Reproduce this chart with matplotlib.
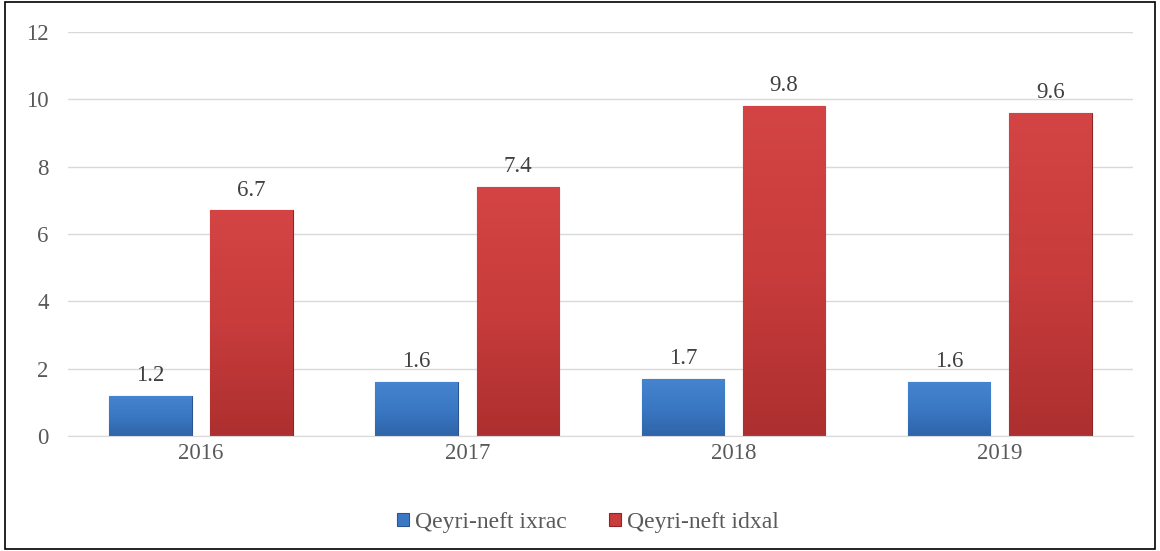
import numpy as np
import matplotlib.pyplot as plt
from matplotlib.patches import Rectangle
from matplotlib.colors import LinearSegmentedColormap

# --- data ---
years = ["2016", "2017", "2018", "2019"]
ixrac = [1.2, 1.6, 1.7, 1.6]
idxal = [6.7, 7.4, 9.8, 9.6]
series_names = ["Qeyri-neft ixrac", "Qeyri-neft idxal"]

plt.rcParams['font.family'] = ['Liberation Serif', 'DejaVu Serif']
text_col = '#595959'
fs = 16.5

fig = plt.figure(figsize=(11.6, 5.51), dpi=100)
ax = fig.add_axes([0.0586, 0.2087, 0.918, 0.7333])

x = np.arange(len(years))
width = 0.31
offset = 0.19

blue_cmap = LinearSegmentedColormap.from_list('b', ['#2f64a8', '#3b78c4', '#4684cf'])
red_cmap = LinearSegmentedColormap.from_list('r', ['#ad2f2f', '#c83c3c', '#d44444'])

bars_b = ax.bar(x - offset, ixrac, width, color='#3b78c4', edgecolor='#2a5590',
                linewidth=0.8, label=series_names[0], zorder=2)
bars_r = ax.bar(x + offset, idxal, width, color='#c83c3c', edgecolor='#8f2424',
                linewidth=0.8, label=series_names[1], zorder=2)

# vertical gradient inside each bar
grad = np.linspace(0, 1, 256).reshape(-1, 1)
for bars, cm in ((bars_b, blue_cmap), (bars_r, red_cmap)):
    for b in bars:
        x0, y0 = b.get_x(), b.get_y()
        w, h = b.get_width(), b.get_height()
        im = ax.imshow(grad, cmap=cm, aspect='auto', origin='lower',
                       extent=(x0, x0 + w, y0, y0 + h), zorder=2.5)
        im.set_clip_path(b)

for bars, vals in ((bars_b, ixrac), (bars_r, idxal)):
    for b, v in zip(bars, vals):
        ax.annotate(f"{v:.1f}", (b.get_x() + b.get_width() / 2, v),
                    xytext=(0, 7), textcoords='offset points',
                    ha='center', va='bottom', fontsize=fs, color='#404040')

ax.set_xlim(-0.5, len(years) - 0.5)
ax.set_ylim(0, 12)
ax.set_yticks(np.arange(0, 13, 2))
ax.set_xticks(x)
ax.set_xticklabels(years)
ax.yaxis.grid(True, color='#d9d9d9', linewidth=1)
ax.set_axisbelow(True)
for s in ('top', 'right', 'left'):
    ax.spines[s].set_visible(False)
ax.spines['bottom'].set_color('#d9d9d9')
ax.tick_params(axis='both', length=0, labelsize=fs, labelcolor=text_col)
ax.tick_params(axis='y', pad=14)
ax.tick_params(axis='x', pad=5)

leg = fig.legend(handles=[bars_b, bars_r], labels=series_names,
                 loc='center', bbox_to_anchor=(0.507, 0.052), ncol=2,
                 frameon=False, fontsize=17, handlelength=0.5, handleheight=0.5,
                 handletextpad=0.25, columnspacing=1.8)
for t in leg.get_texts():
    t.set_color(text_col)

# outer border
fig.add_artist(Rectangle((0.004, 0.004), 0.992, 0.992, transform=fig.transFigure,
                         fill=False, edgecolor='black', linewidth=1.2))

fig.savefig('out.png', dpi=100)
